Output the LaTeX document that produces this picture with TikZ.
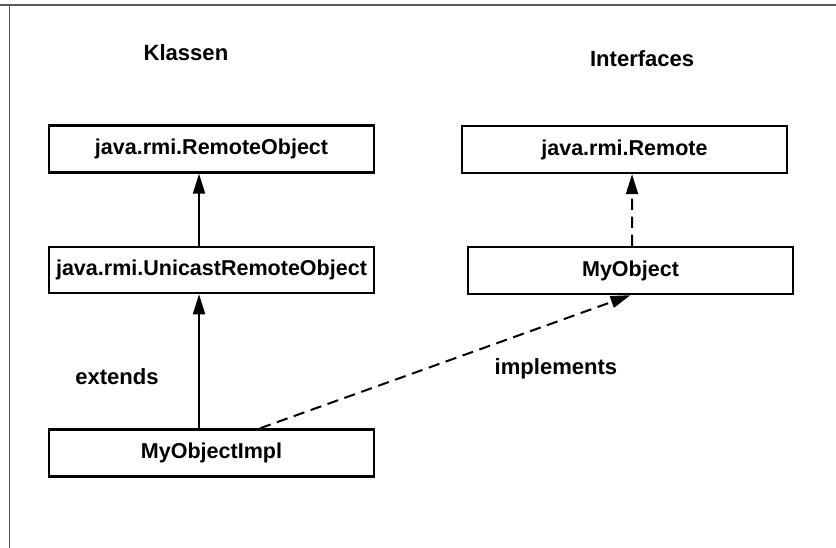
\documentclass[tikz,border=0pt]{standalone}
\usepackage{fontspec}
\setmainfont{Liberation Sans}
\usepackage{xcolor}
\usepackage{tikz}
\usetikzlibrary{arrows.meta,positioning,calc}
\definecolor{framegray}{RGB}{90, 90, 90}

\tikzset{
    classbox/.style={draw=black, line width=1.9pt, fill=white, minimum width=86mm, minimum height=12.4mm, inner sep=0pt, font=\fontsize{16.2}{19}\selectfont\bfseries},
    caption/.style={font=\fontsize{16.6}{19}\selectfont\bfseries},
    inherit/.style={line width=1.5pt, -{Triangle[length=15pt, width=9pt]}},
    realize/.style={inherit, dash pattern=on 8.5pt off 5pt},
}

\begin{document}
\begin{tikzpicture}
    \useasboundingbox (0,0) rectangle (221.19mm, 144.99mm);
    % frame
    \draw[framegray, line width=1pt] (0, 143.67mm) -- (221.19mm, 143.67mm);
    \draw[framegray, line width=1pt] (2.51mm, 0) -- (2.51mm, 143.67mm);

    % column headings
    \node[caption] (klassen) at (49.2mm, 131.2mm) {Klassen};
    \node[caption] (interfaces) at (169.9mm, 129.6mm) {Interfaces};

    % classes
    \node[classbox] (remoteobj) at (55.96mm, 105.57mm) {java.rmi.RemoteObject};
    \node[classbox, minimum height=12.2mm] (unicast) at (55.96mm, 73.55mm) {java.rmi.UnicastRemoteObject};
    \node[classbox] (impl) at (55.96mm, 25.14mm) {MyObjectImpl};

    % interfaces
    \node[classbox] (remote) at (165.23mm, 105.44mm) {java.rmi.Remote};
    \node[classbox] (myobj) at (166.82mm, 73.42mm) {MyObject};

    % relations
    \draw[inherit] ([xshift=-3.3mm]unicast.north) -- ([xshift=-3.3mm]remoteobj.south);
    \draw[inherit] ([xshift=-3.3mm]impl.north) -- ([xshift=-3.3mm]unicast.south);
    \draw[realize] ([xshift=0.4mm]myobj.north) -- ([xshift=2mm]remote.south);
    \draw[realize] ([xshift=12.83mm]impl.north) -- (myobj.south);

    \node[caption] (extends) at (30.96mm, 45.24mm) {extends};
    \node[caption] (implements) at (147.1mm, 47.36mm) {implements};
\end{tikzpicture}
\end{document}
